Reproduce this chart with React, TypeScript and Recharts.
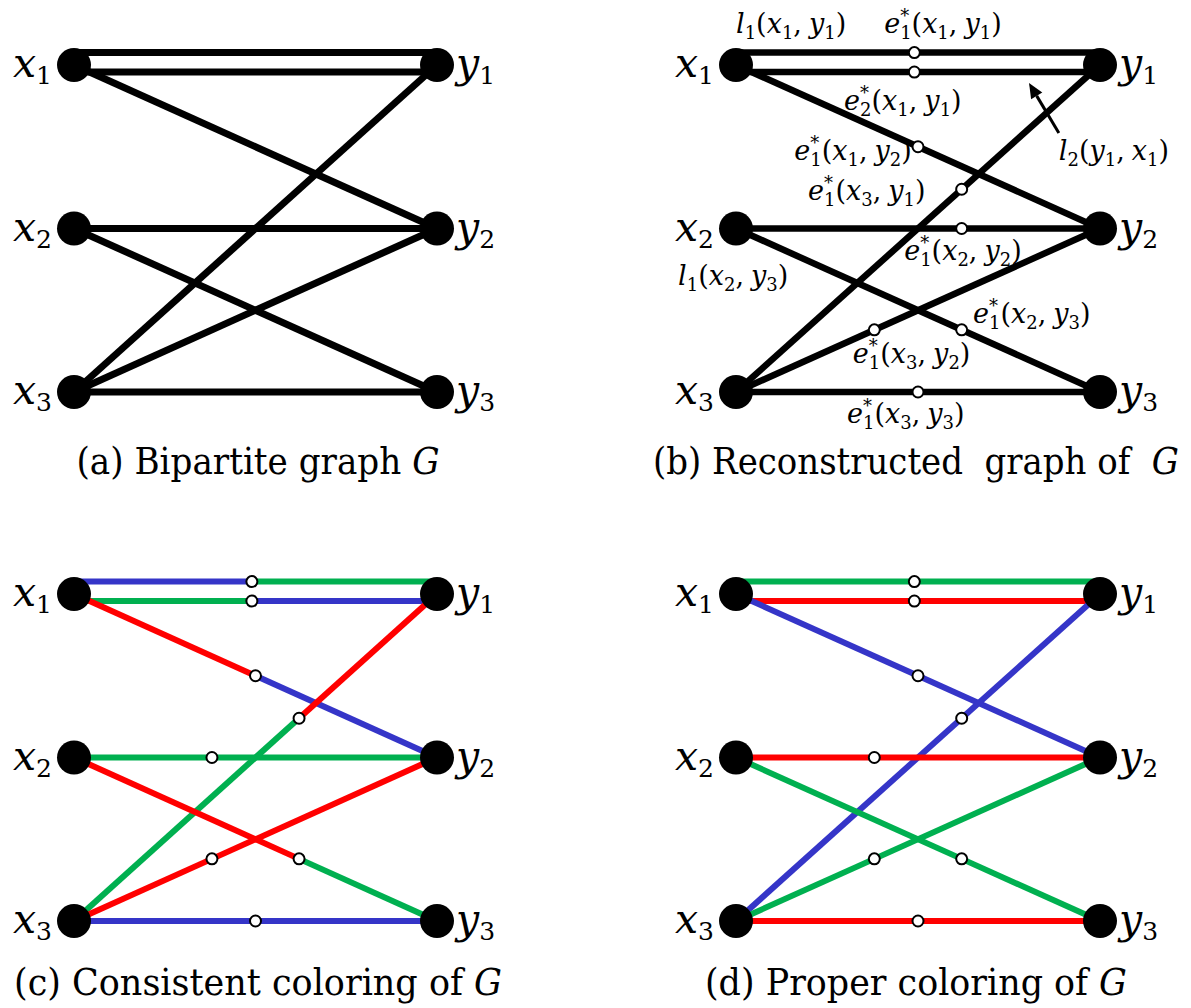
import React from "react";
import { ScatterChart, Scatter, XAxis, YAxis, ReferenceLine } from "recharts";

// vertices of the bipartite graph G
const xNodes = ["x1", "x2", "x3"];
const yNodes = ["y1", "y2", "y3"];

// edges of G: [x vertex, y vertex, lane]  (lane -1 / 1 = the two parallel copies of x1-y1)
const edgeList: [string, string, number][] = [
  ["x1", "y1", -1],
  ["x1", "y1", 1],
  ["x1", "y2", 0],
  ["x3", "y1", 0],
  ["x2", "y2", 0],
  ["x2", "y3", 0],
  ["x3", "y2", 0],
  ["x3", "y3", 0],
];

// position of the subdivision vertex e* along each edge (fraction from the x end)
const splitB = [0.49, 0.49, 0.5, 0.62, 0.62, 0.62, 0.38, 0.5];
const splitCD = [0.49, 0.49, 0.5, 0.62, 0.38, 0.62, 0.38, 0.5];

const BLUE = "#3535c8";
const GREEN = "#00b050";
const RED = "#ff0000";

// colour of each half edge: [x side, y side]
const colorsC = [
  [BLUE, GREEN],
  [GREEN, BLUE],
  [RED, BLUE],
  [GREEN, RED],
  [GREEN, GREEN],
  [RED, GREEN],
  [RED, RED],
  [BLUE, BLUE],
];
const colorsD = [
  [GREEN, GREEN],
  [RED, RED],
  [BLUE, BLUE],
  [BLUE, BLUE],
  [RED, RED],
  [GREEN, GREEN],
  [GREEN, GREEN],
  [RED, RED],
];

// annotations of panel (b), anchored at the start of the baseline
const labelsB = [
  { sym: "l", sub: "1", star: false, args: ["x1", "y1"], x: 0.0, y: -0.196 },
  { sym: "e", sub: "1", star: true, args: ["x1", "y1"], x: 0.407, y: -0.196 },
  { sym: "e", sub: "2", star: true, args: ["x1", "y1"], x: 0.297, y: 0.275 },
  { sym: "e", sub: "1", star: true, args: ["x1", "y2"], x: 0.16, y: 0.581 },
  { sym: "l", sub: "2", star: false, args: ["y1", "x1"], x: 0.887, y: 0.581 },
  { sym: "e", sub: "1", star: true, args: ["x3", "y1"], x: 0.198, y: 0.826 },
  { sym: "e", sub: "1", star: true, args: ["x2", "y2"], x: 0.462, y: 1.193 },
  { sym: "l", sub: "1", star: false, args: ["x2", "y3"], x: -0.159, y: 1.346 },
  { sym: "e", sub: "1", star: true, args: ["x2", "y3"], x: 0.651, y: 1.578 },
  { sym: "e", sub: "1", star: true, args: ["x3", "y2"], x: 0.321, y: 1.823 },
  { sym: "e", sub: "1", star: true, args: ["x3", "y3"], x: 0.305, y: 2.19 },
];
const arrowB = [
  { x: 0.887, y: 0.416 },
  { x: 0.805, y: 0.11 },
];

const captions = [
  "(a) Bipartite graph ",
  "(b) Reconstructed  graph of  ",
  "(c) Consistent coloring of ",
  "(d) Proper coloring of ",
];
const captionWidths = [363, 526, 488, 422];

const SERIF = "DejaVu Serif";
const X_DOMAIN = [-0.2, 1.2];
const Y_DOMAIN = [-0.25, 2.25];

const laneShift: Record<string, number> = { "-1": -0.076, "0": 0, "1": 0.043 };

const at = (name: string, lane = 0) => ({
  x: name[0] === "x" ? 0 : 1,
  y: Number(name[1]) - 1 + laneShift[String(lane)],
});
const lerp = (a: any, b: any, t: number) => ({ x: a.x + (b.x - a.x) * t, y: a.y + (b.y - a.y) * t });

type Tok = { s: string; it?: boolean; sz: number; base: number; dx?: number };
const runs = (tokens: Tok[]) => {
  let prev = 0;
  return tokens.map((t, i) => {
    const dy = t.base - prev;
    prev = t.base;
    return (
      <tspan key={i} fontSize={t.sz} fontStyle={t.it ? "italic" : "normal"} dy={dy} dx={t.dx}>
        {t.s}
      </tspan>
    );
  });
};

const nodeTokens = (name: string): Tok[] => [
  { s: name[0], it: true, sz: 41, base: 0 },
  { s: name[1], sz: 25, base: 7 },
];

const F = 27;
const S = 18;
const argTokens = (name: string, dx?: number): Tok[] => [
  { s: name[0], it: true, sz: F, base: 0, dx },
  { s: name[1], sz: S, base: 6 },
];
const labelTokens = (d: any): Tok[] => {
  const head: Tok[] = d.star
    ? [
        { s: d.sym, it: true, sz: F, base: 0 },
        { s: "*", sz: S, base: -11 },
        { s: d.sub, sz: S, base: 6, dx: -9 },
      ]
    : [
        { s: d.sym, it: true, sz: F, base: 0 },
        { s: d.sub, sz: S, base: 6 },
      ];
  return [
    ...head,
    { s: "(", sz: F, base: 0 },
    ...argTokens(d.args[0]),
    { s: ",", sz: F, base: 0 },
    ...argTokens(d.args[1], 7),
    { s: ")", sz: F, base: 0 },
  ];
};

const NodeShape = (p: any) => {
  const left = p.payload.side === 0;
  return (
    <g>
      <circle cx={p.cx} cy={p.cy} r={17} fill="#000" />
      <text
        x={left ? p.cx - 22 : p.cx + 19}
        y={p.cy + 12}
        textAnchor={left ? "end" : "start"}
        fontFamily={SERIF}
        fill="#000"
      >
        {runs(nodeTokens(p.payload.name))}
      </text>
    </g>
  );
};

const SubdivShape = (p: any) => (
  <circle cx={p.cx} cy={p.cy} r={5.5} fill="#fff" stroke="#000" strokeWidth={2} />
);

const LabelShape = (p: any) => (
  <text x={p.cx} y={p.cy} fontFamily={SERIF} fill="#000">
    {runs(labelTokens(p.payload))}
  </text>
);

const ArrowShape = (p: any) => {
  const { x1, y1, x2, y2 } = p;
  const a = Math.atan2(y2 - y1, x2 - x1);
  const L = 15;
  const W = 6.5;
  const bx = x2 - L * Math.cos(a);
  const by = y2 - L * Math.sin(a);
  return (
    <g>
      <line x1={x1} y1={y1} x2={bx} y2={by} stroke="#000" strokeWidth={3} />
      <polygon
        points={`${x2},${y2} ${bx - W * Math.sin(a)},${by + W * Math.cos(a)} ${bx + W * Math.sin(a)},${by - W * Math.cos(a)}`}
        fill="#000"
      />
    </g>
  );
};

const nodeData = [
  ...xNodes.map((name) => ({ name, side: 0, ...at(name) })),
  ...yNodes.map((name) => ({ name, side: 1, ...at(name) })),
];

function Panel({ kind, left, top, height, margin }: any) {
  const split = kind === "b" ? splitB : splitCD;
  const colors = kind === "c" ? colorsC : kind === "d" ? colorsD : null;
  const lines: any[] = [];
  edgeList.forEach(([u, v, lane], i) => {
    const a = at(u, lane);
    const b = at(v, lane);
    if (!colors) {
      lines.push(
        <ReferenceLine
          key={`e${i}`}
          segment={[a, b]}
          stroke="#000"
          strokeWidth={kind === "a" ? 7 : 6.5}
          ifOverflow="visible"
        />
      );
      return;
    }
    const m = lerp(a, b, split[i]);
    lines.push(
      <ReferenceLine key={`e${i}a`} segment={[a, m]} stroke={colors[i][0]} strokeWidth={6} ifOverflow="visible" />,
      <ReferenceLine key={`e${i}b`} segment={[m, b]} stroke={colors[i][1]} strokeWidth={6} ifOverflow="visible" />
    );
  });
  const subdiv =
    kind === "a" ? [] : edgeList.map(([u, v, lane], i) => lerp(at(u, lane), at(v, lane), split[i]));

  return (
    <div style={{ position: "absolute", left, top }}>
      <ScatterChart width={595} height={height} margin={margin}>
        <XAxis type="number" dataKey="x" domain={X_DOMAIN} hide />
        <YAxis type="number" dataKey="y" domain={Y_DOMAIN} reversed hide />
        {lines}
        {kind === "b" && (
          <ReferenceLine segment={arrowB} ifOverflow="visible" shape={ArrowShape} />
        )}
        {subdiv.length > 0 && (
          <Scatter data={subdiv} shape={SubdivShape} isAnimationActive={false} />
        )}
        <Scatter data={nodeData} shape={NodeShape} isAnimationActive={false} />
        {kind === "b" && <Scatter data={labelsB} shape={LabelShape} isAnimationActive={false} />}
      </ScatterChart>
    </div>
  );
}

export default function App() {
  // plot areas sized so one x unit = 363 px and one y unit = 163.5 px
  const topM = { top: 24.125, bottom: 87.125 };
  const botM = { top: 33.125, bottom: 46.125 };
  const leftM = { left: 1.4, right: 85.4 };
  const rightM = { left: 68.2, right: 17.2 };
  return (
    <div style={{ position: "absolute", left: 0, top: 0, width: 1191, height: 1008, background: "#fff" }}>
      <Panel kind="a" left={0} top={0} height={520} margin={{ ...topM, ...leftM }} />
      <Panel kind="b" left={595} top={0} height={520} margin={{ ...topM, ...rightM }} />
      <Panel kind="c" left={0} top={520} height={488} margin={{ ...botM, ...leftM }} />
      <Panel kind="d" left={595} top={520} height={488} margin={{ ...botM, ...rightM }} />
      <svg width={1191} height={1008} style={{ position: "absolute", left: 0, top: 0 }}>
        {captions.map((c, i) => (
          <text
            key={c}
            x={i % 2 === 0 ? 258 : 916}
            y={i < 2 ? 474 : 995}
            textAnchor="middle"
            textLength={captionWidths[i]}
            lengthAdjust="spacingAndGlyphs"
            fontFamily={SERIF}
            fontSize={38}
            fill="#000"
            style={{ whiteSpace: "pre" }}
          >
            {c}
            <tspan fontStyle="italic">G</tspan>
          </text>
        ))}
      </svg>
    </div>
  );
}
